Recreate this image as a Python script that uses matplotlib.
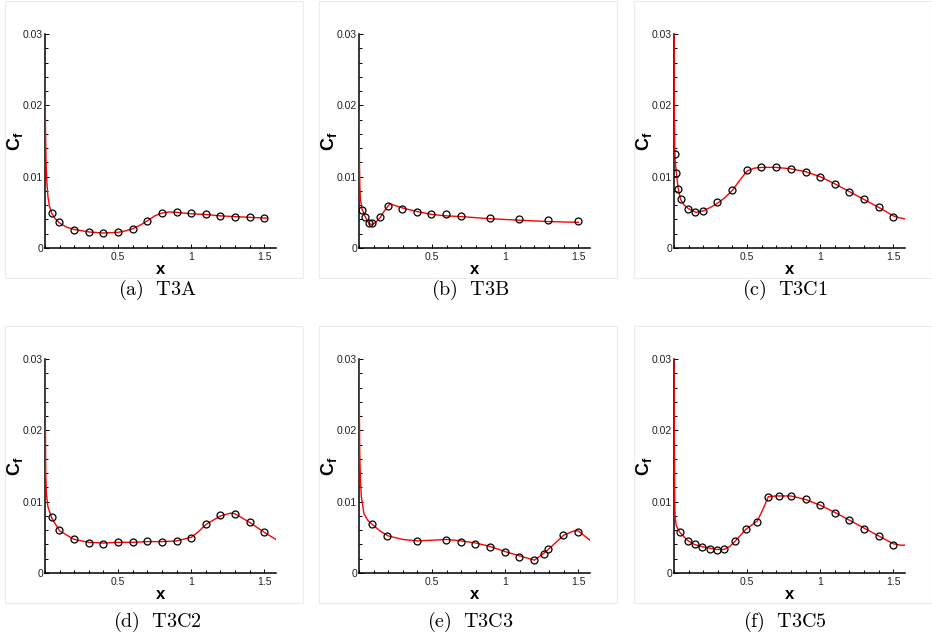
import numpy as np
import matplotlib
matplotlib.use('Agg')
import matplotlib.pyplot as plt
from matplotlib.patches import Rectangle
from matplotlib.ticker import MultipleLocator, FuncFormatter

plt.rcParams['font.family'] = ['Liberation Sans', 'DejaVu Sans']
plt.rcParams['mathtext.fontset'] = 'custom'
plt.rcParams['mathtext.rm'] = 'Liberation Sans'
plt.rcParams['mathtext.bf'] = 'Liberation Sans:bold'

# panel captions
captions = ['(a)\\ \\ T3A', '(b)\\ \\ T3B', '(c)\\ \\ T3C1',
            '(d)\\ \\ T3C2', '(e)\\ \\ T3C3', '(f)\\ \\ T3C5']

# experimental points (circles)
exp_a_x = [0.045, 0.095, 0.2, 0.3, 0.4, 0.5, 0.6, 0.7, 0.8, 0.9, 1.0, 1.1, 1.2, 1.3, 1.4, 1.5]
exp_a_y = [0.0049, 0.0036, 0.0025, 0.0022, 0.0021, 0.0022, 0.0026, 0.0038, 0.0049, 0.0050,
           0.0049, 0.0047, 0.0045, 0.0044, 0.0043, 0.0042]

exp_b_x = [0.02, 0.041, 0.068, 0.091, 0.146, 0.195, 0.295, 0.396, 0.495, 0.595, 0.695, 0.895,
           1.096, 1.296, 1.497]
exp_b_y = [0.0053, 0.0044, 0.0035, 0.0035, 0.0043, 0.0059, 0.0055, 0.0051, 0.0048, 0.0047,
           0.0045, 0.0042, 0.0041, 0.0039, 0.0038]

exp_c_x = [0.005, 0.017, 0.028, 0.045, 0.095, 0.146, 0.195, 0.297, 0.397, 0.496, 0.598, 0.699,
           0.8, 0.9, 1.0, 1.1, 1.2, 1.3, 1.4, 1.5]
exp_c_y = [0.0132, 0.0105, 0.0083, 0.0068, 0.0055, 0.0050, 0.0052, 0.0064, 0.0081, 0.0109,
           0.0113, 0.0113, 0.0111, 0.0107, 0.0100, 0.0090, 0.0079, 0.0068, 0.0057, 0.0044]

exp_d_x = [0.046, 0.098, 0.197, 0.298, 0.4, 0.5, 0.6, 0.7, 0.8, 0.9, 1.0, 1.1, 1.2, 1.3, 1.4, 1.5]
exp_d_y = [0.0078, 0.0060, 0.0047, 0.0042, 0.0041, 0.0044, 0.0043, 0.0045, 0.0044, 0.0045,
           0.0049, 0.0068, 0.0081, 0.0083, 0.0071, 0.0057]

exp_e_x = [0.091, 0.19, 0.394, 0.592, 0.695, 0.795, 0.895, 0.998, 1.096, 1.196, 1.262, 1.296,
           1.396, 1.497]
exp_e_y = [0.0068, 0.0052, 0.0045, 0.0046, 0.0044, 0.0041, 0.0036, 0.0030, 0.0023, 0.0018,
           0.0027, 0.0033, 0.0053, 0.0058]

exp_f_x = [0.041, 0.093, 0.143, 0.193, 0.243, 0.293, 0.343, 0.418, 0.494, 0.569, 0.643, 0.717,
           0.8, 0.9, 1.0, 1.1, 1.2, 1.3, 1.4, 1.5]
exp_f_y = [0.0057, 0.0045, 0.0040, 0.0036, 0.0034, 0.0032, 0.0033, 0.0045, 0.0061, 0.0072,
           0.0106, 0.0108, 0.0108, 0.0104, 0.0095, 0.0084, 0.0074, 0.0062, 0.0052, 0.0039]

# computed curves (red lines)
sim_a_x = [0.0, 0.003, 0.007, 0.012, 0.02, 0.03, 0.045, 0.07, 0.1, 0.15, 0.2, 0.3, 0.4, 0.5,
           0.55, 0.6, 0.65, 0.7, 0.75, 0.8, 0.85, 0.9, 1.0, 1.1, 1.2, 1.3, 1.4, 1.5, 1.52]
sim_a_y = [0.0236, 0.017, 0.0123, 0.0095, 0.0072, 0.0059, 0.0049, 0.0041, 0.0035, 0.0029,
           0.0026, 0.00225, 0.0021, 0.0022, 0.0024, 0.0027, 0.0032, 0.0038, 0.0045, 0.0049,
           0.00505, 0.0050, 0.0048, 0.0047, 0.0045, 0.0044, 0.0043, 0.0042, 0.0042]

sim_b_x = [0.0, 0.003, 0.006, 0.01, 0.02, 0.04, 0.06, 0.08, 0.1, 0.12, 0.146, 0.17, 0.21, 0.3,
           0.4, 0.5, 0.6, 0.7, 0.9, 1.1, 1.3, 1.5]
sim_b_y = [0.0194, 0.0120, 0.0085, 0.0068, 0.0055, 0.0045, 0.0037, 0.0033, 0.0034, 0.0037,
           0.0043, 0.0051, 0.0062, 0.0056, 0.0051, 0.0047, 0.0045, 0.0044, 0.0041, 0.0039,
           0.0037, 0.0036]

sim_c_x = [0.0, 0.001, 0.002, 0.004, 0.008, 0.017, 0.028, 0.045, 0.07, 0.1, 0.15, 0.2, 0.25,
           0.3, 0.35, 0.4, 0.45, 0.5, 0.55, 0.6, 0.7, 0.8, 0.9, 1.0, 1.1, 1.2, 1.3, 1.4,
           1.5, 1.55, 1.58]
sim_c_y = [0.034, 0.026, 0.020, 0.0150, 0.0122, 0.0104, 0.0084, 0.0068, 0.0060, 0.0055,
           0.0050, 0.0052, 0.0057, 0.0063, 0.0071, 0.0081, 0.0095, 0.0108, 0.0112, 0.0113,
           0.0113, 0.0111, 0.0107, 0.0100, 0.0090, 0.0079, 0.0068, 0.0057, 0.0045, 0.0042,
           0.0041]

sim_d_x = [0.0, 0.002, 0.005, 0.01, 0.02, 0.046, 0.1, 0.2, 0.3, 0.4, 0.5, 0.6, 0.7, 0.8, 0.9,
           1.0, 1.05, 1.1, 1.2, 1.27, 1.3, 1.4, 1.5, 1.58]
sim_d_y = [0.030, 0.022, 0.014, 0.011, 0.0093, 0.0077, 0.0059, 0.0047, 0.0043, 0.0042, 0.0043,
           0.0043, 0.0044, 0.0044, 0.0045, 0.0050, 0.0058, 0.0068, 0.0080, 0.0084, 0.0083,
           0.0071, 0.0057, 0.0047]

sim_e_x = [0.0, 0.002, 0.005, 0.01, 0.016, 0.034, 0.06, 0.091, 0.15, 0.2, 0.3, 0.4, 0.5, 0.6,
           0.7, 0.8, 0.9, 1.0, 1.1, 1.2, 1.26, 1.3, 1.4, 1.47, 1.5, 1.58]
sim_e_y = [0.030, 0.024, 0.0168, 0.0130, 0.0107, 0.0083, 0.0074, 0.0068, 0.0058, 0.0052,
           0.0047, 0.0045, 0.0046, 0.0047, 0.0045, 0.0042, 0.0037, 0.0030, 0.0024, 0.0018,
           0.0027, 0.0034, 0.0053, 0.0059, 0.0059, 0.0046]

sim_f_x = [0.0, 0.002, 0.004, 0.007, 0.016, 0.04, 0.09, 0.14, 0.19, 0.24, 0.29, 0.34, 0.38,
           0.42, 0.49, 0.53, 0.57, 0.61, 0.645, 0.7, 0.8, 0.9, 1.0, 1.1, 1.2, 1.3, 1.4, 1.5,
           1.55, 1.58]
sim_f_y = [0.030, 0.020, 0.012, 0.0079, 0.0066, 0.0057, 0.0046, 0.0040, 0.0037, 0.0035,
           0.0033, 0.0033, 0.0037, 0.0045, 0.0061, 0.0067, 0.0073, 0.0090, 0.0107, 0.0108,
           0.0108, 0.0103, 0.0095, 0.0085, 0.0074, 0.0063, 0.0052, 0.0041, 0.0039, 0.0039]

exp_x = [exp_a_x, exp_b_x, exp_c_x, exp_d_x, exp_e_x, exp_f_x]
exp_y = [exp_a_y, exp_b_y, exp_c_y, exp_d_y, exp_e_y, exp_f_y]
sim_x = [sim_a_x, sim_b_x, sim_c_x, sim_d_x, sim_e_x, sim_f_x]
sim_y = [sim_a_y, sim_b_y, sim_c_y, sim_d_y, sim_e_y, sim_f_y]

W, H = 932, 641
fig = plt.figure(figsize=(W / 100, H / 100), dpi=100)

col_left = [45, 359, 674]
row_top = [34, 359]
ax_w, ax_h = 231, 214
frame_x = [5, 319, 634]
frame_y = [1, 326]
frame_w, frame_h = 298, 277
cap_x = [157, 470, 785]
cap_y = [290, 622]

fmt = FuncFormatter(lambda v, p: '0' if abs(v) < 1e-12 else ('%g' % v))

for i in range(6):
    r, c = divmod(i, 3)
    # light frame around each sub-figure
    fig.patches.append(Rectangle((frame_x[c] / W, 1 - (frame_y[r] + frame_h) / H),
                                 frame_w / W, frame_h / H, transform=fig.transFigure,
                                 fill=False, edgecolor='#ececec', linewidth=0.8))
    ax = fig.add_axes([col_left[c] / W, 1 - (row_top[r] + ax_h) / H, ax_w / W, ax_h / H])
    ax.plot(sim_x[i], sim_y[i], color='red', linewidth=1.0, zorder=3)
    ax.plot(exp_x[i], exp_y[i], 'o', markerfacecolor='none', markeredgecolor='black',
            markersize=5, markeredgewidth=0.9, zorder=4)
    ax.set_xlim(0, 1.58)
    ax.set_ylim(0, 0.03)
    ax.spines['top'].set_visible(False)
    ax.spines['right'].set_visible(False)
    ax.spines['left'].set_linewidth(1.1)
    ax.spines['bottom'].set_linewidth(1.1)
    ax.set_xticks([0.5, 1.0, 1.5])
    ax.xaxis.set_minor_locator(MultipleLocator(0.1))
    ax.set_yticks([0, 0.01, 0.02, 0.03])
    ax.yaxis.set_minor_locator(MultipleLocator(0.002))
    ax.xaxis.set_major_formatter(fmt)
    ax.yaxis.set_major_formatter(fmt)
    ax.tick_params(which='both', direction='in', labelsize=7.5, labelcolor='#222222', width=0.7)
    ax.tick_params(which='major', length=3)
    ax.tick_params(which='minor', length=2)
    ax.tick_params(axis='y', pad=1.5)
    ax.tick_params(axis='x', pad=3)
    ax.set_xlabel('x', fontsize=12, fontweight='bold', labelpad=0)
    ax.set_ylabel(r'$\mathbf{C}_{\mathbf{f}}$', fontsize=13, va='center')
    ax.yaxis.set_label_coords(-30 / ax_w, 0.5)
    fig.text(cap_x[c] / W, 1 - cap_y[r] / H, '$\\mathrm{' + captions[i] + '}$',
             ha='center', va='center', fontsize=14.5, math_fontfamily='cm')

fig.savefig('out.png', dpi=100)
